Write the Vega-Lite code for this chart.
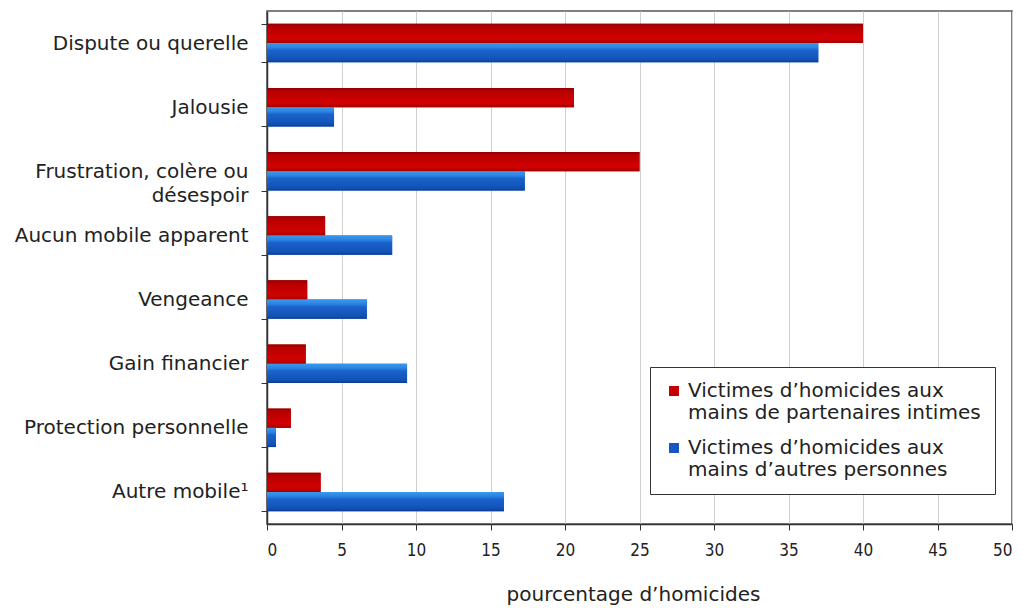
{
  "$schema": "https://vega.github.io/schema/vega-lite/v6.json",
  "autosize": {"type": "none"},
  "width": 745,
  "height": 513,
  "padding": {"left": 267, "top": 11, "right": 16, "bottom": 84},
  "background": "white",
  "config": {
    "view": {"stroke": "#555", "strokeWidth": 1.5},
    "font": "DejaVu Sans"
  },
  "data": {
    "values": [
      {"mobile": "Dispute ou querelle", "serie": "Victimes d’homicides aux|mains de partenaires intimes", "pct": 40},
      {"mobile": "Dispute ou querelle", "serie": "Victimes d’homicides aux|mains d’autres personnes", "pct": 37},
      {"mobile": "Jalousie", "serie": "Victimes d’homicides aux|mains de partenaires intimes", "pct": 20.6},
      {"mobile": "Jalousie", "serie": "Victimes d’homicides aux|mains d’autres personnes", "pct": 4.5},
      {"mobile": "Frustration, colère ou|désespoir", "serie": "Victimes d’homicides aux|mains de partenaires intimes", "pct": 25},
      {"mobile": "Frustration, colère ou|désespoir", "serie": "Victimes d’homicides aux|mains d’autres personnes", "pct": 17.3},
      {"mobile": "Aucun mobile apparent", "serie": "Victimes d’homicides aux|mains de partenaires intimes", "pct": 3.9},
      {"mobile": "Aucun mobile apparent", "serie": "Victimes d’homicides aux|mains d’autres personnes", "pct": 8.4},
      {"mobile": "Vengeance", "serie": "Victimes d’homicides aux|mains de partenaires intimes", "pct": 2.7},
      {"mobile": "Vengeance", "serie": "Victimes d’homicides aux|mains d’autres personnes", "pct": 6.7},
      {"mobile": "Gain financier", "serie": "Victimes d’homicides aux|mains de partenaires intimes", "pct": 2.6},
      {"mobile": "Gain financier", "serie": "Victimes d’homicides aux|mains d’autres personnes", "pct": 9.4},
      {"mobile": "Protection personnelle", "serie": "Victimes d’homicides aux|mains de partenaires intimes", "pct": 1.6},
      {"mobile": "Protection personnelle", "serie": "Victimes d’homicides aux|mains d’autres personnes", "pct": 0.6},
      {"mobile": "Autre mobile¹", "serie": "Victimes d’homicides aux|mains de partenaires intimes", "pct": 3.6},
      {"mobile": "Autre mobile¹", "serie": "Victimes d’homicides aux|mains d’autres personnes", "pct": 15.9}
    ]
  },
  "encoding": {
    "y": {
      "field": "mobile",
      "type": "nominal",
      "sort": null,
      "scale": {"paddingInner": 0.4, "paddingOuter": 0.2},
      "axis": {
        "title": null,
        "labelExpr": "split(datum.label, '|')",
        "labelFontSize": 20,
        "labelFont": "DejaVu Sans",
        "labelColor": "#222",
        "labelPadding": 13,
        "labelLimit": 300,
        "tickBand": "extent",
        "tickSize": 6,
        "tickColor": "#333",
        "domainColor": "#333",
        "domainWidth": 1.5,
        "labelLineHeight": 24
      }
    },
    "yOffset": {"field": "serie", "type": "nominal", "sort": null},
    "x": {
      "field": "pct",
      "type": "quantitative",
      "scale": {"domain": [0, 50], "nice": false},
      "axis": {
        "values": [0, 5, 10, 15, 20, 25, 30, 35, 40, 45, 50],
        "title": "pourcentage d’homicides",
        "titleFontSize": 20,
        "titleFontWeight": "normal",
        "titleFont": "DejaVu Sans",
        "titleColor": "#222",
        "titlePadding": 26,
        "titleX": 366,
        "labelFontSize": 17,
        "labelFont": "DejaVu Sans Condensed",
        "labelColor": "#222",
        "labelPadding": 12,
        "tickSize": 6,
        "tickColor": "#333",
        "domainColor": "#333",
        "domainWidth": 1.5,
        "grid": true,
        "gridColor": "#cfcfcf"
      }
    }
  },
  "layer": [
    {
      "mark": {"type": "bar"},
      "encoding": {
        "color": {
          "field": "serie",
          "type": "nominal",
          "sort": null,
          "scale": {"range": ["#C40000", "#1856C4"]},
          "legend": {
            "title": null,
            "orient": "none",
            "legendX": 383,
            "legendY": 356,
            "labelExpr": "split(datum.label, '|')",
            "labelFontSize": 20,
            "labelFont": "DejaVu Sans",
            "labelColor": "#222",
            "labelLimit": 400,
            "labelLineHeight": 25,
            "labelOffset": 4,
            "symbolType": "square",
            "symbolSize": 100,
            "symbolStrokeWidth": 0,
            "rowPadding": 15,
            "padding": 14,
            "strokeColor": "#333",
            "fillColor": "white"
          }
        }
      }
    },
    {
      "transform": [{"filter": "indexof(datum.serie, 'partenaires') >= 0"}],
      "mark": {
        "type": "bar",
        "color": {
          "gradient": "linear", "x1": 0, "y1": 0, "x2": 0, "y2": 1,
          "stops": [
            {"offset": 0, "color": "#8E0000"},
            {"offset": 0.12, "color": "#B40000"},
            {"offset": 0.45, "color": "#C40000"},
            {"offset": 0.8, "color": "#D20000"},
            {"offset": 1, "color": "#A00000"}
          ]
        }
      }
    },
    {
      "transform": [{"filter": "indexof(datum.serie, 'autres') >= 0"}],
      "mark": {
        "type": "bar",
        "color": {
          "gradient": "linear", "x1": 0, "y1": 0, "x2": 0, "y2": 1,
          "stops": [
            {"offset": 0, "color": "#3C98EE"},
            {"offset": 0.22, "color": "#2C84E2"},
            {"offset": 0.38, "color": "#1A62CC"},
            {"offset": 0.85, "color": "#1252B6"},
            {"offset": 1, "color": "#0A3E96"}
          ]
        }
      }
    }
  ]
}
